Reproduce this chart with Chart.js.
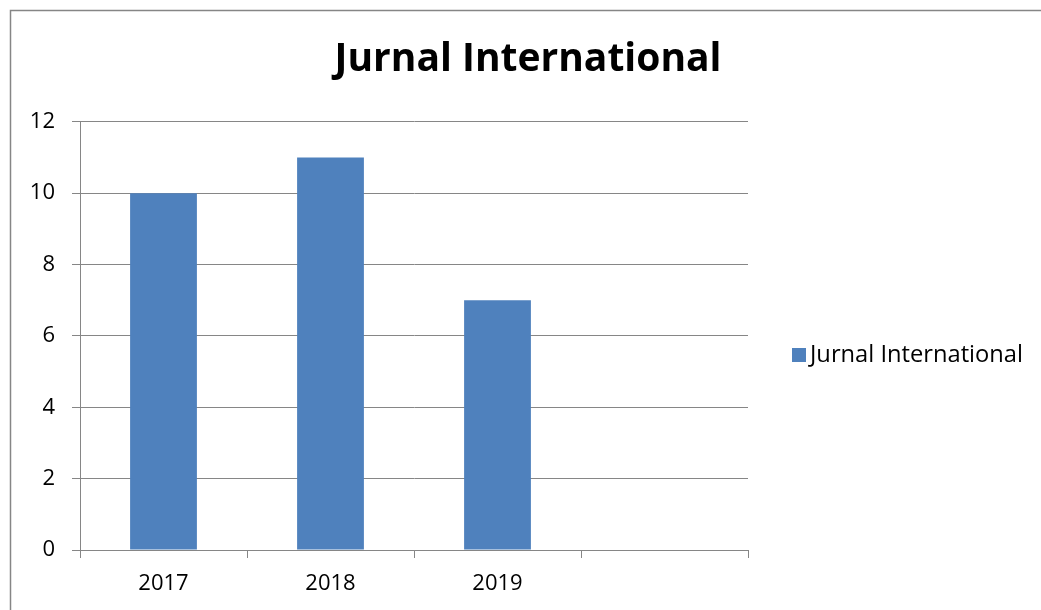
<!DOCTYPE html>
<html>
<head>
<meta charset="utf-8">
<script src="https://cdn.jsdelivr.net/npm/chart.js@4"></script>
<style>
  html, body { margin: 0; padding: 0; background: #fff; }
  #wrap { width: 1041px; height: 610px; position: relative; }
</style>
</head>
<body>
<div id="wrap"><canvas id="chart" width="1041" height="610"></canvas></div>
<script>
const chartTitle = 'Jurnal International';
const seriesName = 'Jurnal International';
const years = ['2017', '2018', '2019', ''];
const journals = [10, 11, 7, null];
const yTicks = [0, 2, 4, 6, 8, 10, 12];

const gridGray = '#868686';
const barBlue = '#4F81BD';
const fontFamily = '"Open Sans", "Noto Sans", sans-serif';

// outer frame + legend drawn by hand so their spots match the original
const framePlugin = {
    id: 'frame',
    beforeDraw(chart) {
        const ctx = chart.ctx;
        ctx.save();
        ctx.fillStyle = '#fff';
        ctx.fillRect(0, 0, chart.width, chart.height);
        ctx.strokeStyle = gridGray;
        ctx.lineWidth = 1.5;
        ctx.strokeRect(10.5, 10.5, chart.width + 50, chart.height + 50);
        ctx.restore();
    },
    afterDraw(chart) {
        const ctx = chart.ctx;
        const ds = chart.data.datasets[0];
        ctx.save();
        ctx.fillStyle = ds.backgroundColor;
        ctx.fillRect(792, 348, 14, 14);
        ctx.fillStyle = '#000';
        ctx.font = '23.7px ' + fontFamily;
        ctx.textBaseline = 'middle';
        ctx.fillText(ds.label, 810, 355);
        ctx.restore();
    }
};

new Chart(document.getElementById('chart'), {
    type: 'bar',
    data: {
        labels: years,
        datasets: [{
            label: seriesName,
            data: journals,
            backgroundColor: barBlue,
            borderWidth: 0,
            barPercentage: 0.4,
            categoryPercentage: 1
        }]
    },
    options: {
        responsive: false,
        animation: false,
        layout: { padding: { top: 10, left: 15, right: 0, bottom: 0 } },
        plugins: {
            legend: { display: false },
            tooltip: { enabled: false },
            title: {
                display: true,
                text: chartTitle,
                color: '#000',
                font: { family: fontFamily, size: 39, weight: 'bold', lineHeight: 1.2 },
                padding: { top: 26, bottom: 39 }
            }
        },
        scales: {
            x: {
                grid: { display: true, drawOnChartArea: false, drawTicks: true, tickLength: 8, color: gridGray, offset: true },
                border: { display: true, color: gridGray, width: 1 },
                ticks: { color: '#000', padding: 13, font: { family: fontFamily, size: 22 } },
                afterFit: s => { s.height = 60; }
            },
            y: {
                min: 0,
                max: 12,
                afterBuildTicks: s => { s.ticks = yTicks.map(v => ({ value: v })); },
                grid: { color: gridGray, tickLength: 8, drawTicks: true },
                border: { display: true, color: gridGray, width: 1 },
                ticks: { color: '#000', padding: 17, font: { family: fontFamily, size: 22 } },
                afterFit: s => { s.width = 65; }
            },
            // empty right axis keeps room for the legend column
            side: {
                position: 'right',
                display: true,
                grid: { display: false },
                border: { display: false },
                ticks: { display: false },
                afterFit: s => { s.width = 293; }
            }
        }
    },
    plugins: [framePlugin]
});
</script>
</body>
</html>
